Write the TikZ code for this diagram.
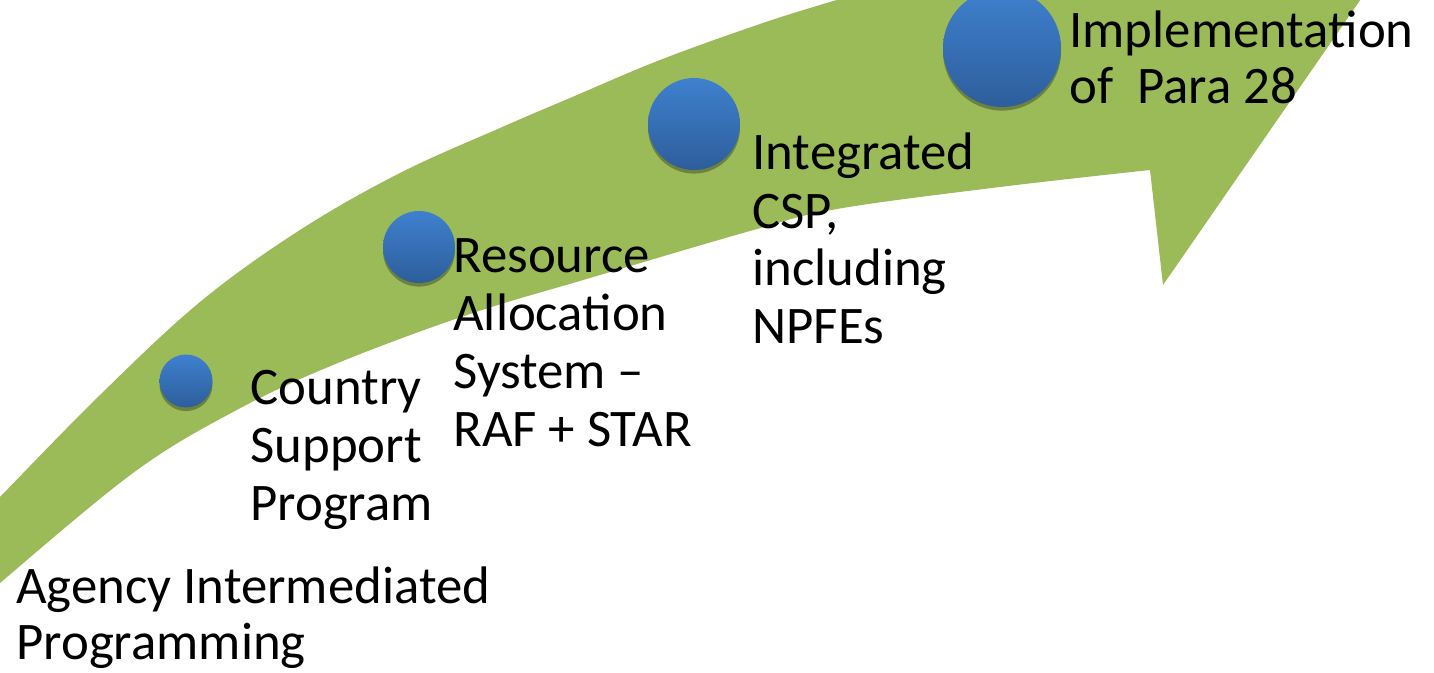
\documentclass[tikz,border=0pt]{standalone}
\usepackage{fontspec}
\setmainfont{Carlito}
\usetikzlibrary{shadows}
\definecolor{arrowgreen}{HTML}{9BBB59}
\definecolor{balltop}{HTML}{3F80CE}
\definecolor{ballbot}{HTML}{2D5E9B}
\tikzset{
  ball/.style={circle, inner sep=0pt, top color=balltop, bottom color=ballbot, draw=none,
     drop shadow={shadow xshift=0pt, shadow yshift=-1.8pt, opacity=0.3, fill=black}},
  lbl/.style={anchor=base west, inner sep=0pt, align=left, text=black,
     font=\fontsize{26.4pt}{29pt}\selectfont},
  lbltight/.style={lbl, font=\fontsize{26.4pt}{28pt}\selectfont}
}
\begin{document}
\begin{tikzpicture}[x=0.5pt,y=-0.5pt]
\useasboundingbox (0,0) rectangle (1434,673);
\clip (0,0) rectangle (1434,673);
\fill[arrowgreen] plot[smooth, tension=0.6] coordinates {(-20,518) (0,497) (100,395) (200,302) (300,230) (400,173) (500,128) (570,98) (660,60) (760,24) (830,2) (900,-18)}
  -- (1381,-30) -- (1163,285) -- (1150,170)
  -- plot[smooth, tension=0.6] coordinates {(1150,170) (1000,187) (837,209) (750,231) (590,278) (467,315) (333,365) (233,412) (133,473) (0,583) (-20,602)}
  -- cycle;
\node[ball, minimum size=26.5pt] (b1) at (186,381) {};
\node[ball, minimum size=36pt] (b2) at (419,247) {};
\node[ball, minimum size=46pt] (b3) at (694,124) {};
\node[ball, minimum size=59pt] (b4) at (1002,48) {};
\node[lbltight] (t1) at (16,659) {Agency Intermediated\\Programming};
\node[lbl] (t2) at (250,520) {Country\\Support\\Program};
\node[lbl] (t3) at (453,446) {Resource\\Allocation\\System –\\RAF + STAR};
\node[lbl] (t4) at (752,344) {Integrated\\CSP,\\including\\NPFEs};
\node[lbltight] (t5) at (1069,104) {Implementation\\of\ \ Para 28};
\end{tikzpicture}
\end{document}
